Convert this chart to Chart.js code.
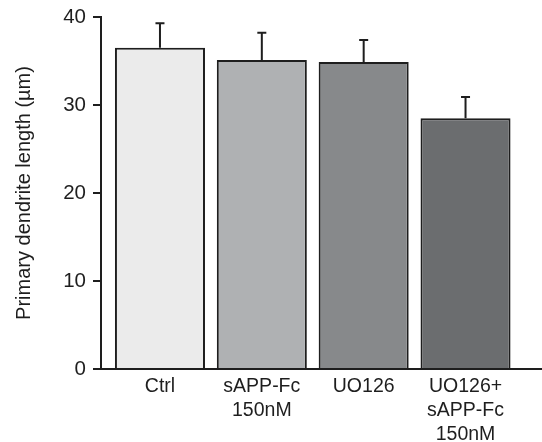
<!DOCTYPE html>
<html>
<head>
<meta charset="utf-8">
<script src="https://cdn.jsdelivr.net/npm/chart.js@4"></script>
<style>
  html, body { margin: 0; padding: 0; background: #fff; }
</style>
</head>
<body>
<canvas id="myChart" width="542" height="442"></canvas>
<script>
const groups = [
  "Ctrl",
  ["sAPP-Fc", "150nM"],
  "UO126",
  ["UO126+", "sAPP-Fc", "150nM"],
];
const means = [36.5, 35.1, 34.9, 28.5];
const errors = [2.8, 3.1, 2.5, 2.4];
const yTicks = [0, 10, 20, 30, 40];
const barColors = ["#ebebeb", "#afb1b3", "#87898b", "#6b6d6f"];

const ink = "#1e1e1e";
const font = "'Liberation Sans', Arial, Helvetica, sans-serif";

// upward-only SEM whiskers with a small cap
const errorBars = {
  id: "errorBars",
  afterDatasetsDraw(chart) {
    const c = chart.ctx;
    const y = chart.scales.y;
    const meta = chart.getDatasetMeta(0);
    c.save();
    c.strokeStyle = ink;
    c.lineWidth = 2;
    meta.data.forEach((bar, i) => {
      const top = y.getPixelForValue(means[i] + errors[i]);
      c.beginPath();
      c.moveTo(bar.x, bar.y);
      c.lineTo(bar.x, top);
      c.moveTo(bar.x - 4.5, top);
      c.lineTo(bar.x + 4.5, top);
      c.stroke();
    });
    c.restore();
  },
};

new Chart(document.getElementById("myChart"), {
  type: "bar",
  data: {
    datasets: [
      {
        data: means.map((m, i) => ({ x: i, y: m })),
        backgroundColor: barColors,
        borderColor: ink,
        borderWidth: 2,
        barPercentage: 0.884,
        categoryPercentage: 1,
      },
    ],
  },
  options: {
    responsive: false,
    animation: false,
    layout: { padding: { top: 17, right: 1, left: 0, bottom: 0 } },
    plugins: { legend: { display: false }, tooltip: { enabled: false } },
    scales: {
      x: {
        type: "linear",
        offset: false,
        min: -0.579,
        max: 3.741,
        afterFit(scale) {
          scale.height = 73;
        },
        grid: { display: false },
        border: { display: true, color: ink, width: 2 },
        ticks: {
          stepSize: 1,
          includeBounds: false,
          autoSkip: false,
          maxRotation: 0,
          padding: -2,
          color: ink,
          font: { family: font, size: 19.5, lineHeight: 1.22 },
          callback: (v) => (Number.isInteger(v) && groups[v] !== undefined ? groups[v] : ""),
        },
      },
      y: {
        min: 0,
        max: 40,
        afterFit(scale) {
          scale.width = 101;
        },
        afterBuildTicks(scale) {
          scale.ticks = yTicks.map((v) => ({ value: v }));
        },
        grid: {
          drawOnChartArea: false,
          drawTicks: true,
          tickLength: 8,
          color: ink,
          lineWidth: 2,
        },
        border: { display: true, color: ink, width: 2 },
        ticks: {
          padding: 7,
          color: ink,
          font: { family: font, size: 20.5, lineHeight: 0.9 },
        },
        title: {
          display: true,
          text: "Primary dendrite length (µm)",
          color: ink,
          padding: { top: 12, bottom: 0 },
          font: { family: font, size: 20 },
        },
      },
    },
  },
  plugins: [errorBars],
});
</script>
</body>
</html>
